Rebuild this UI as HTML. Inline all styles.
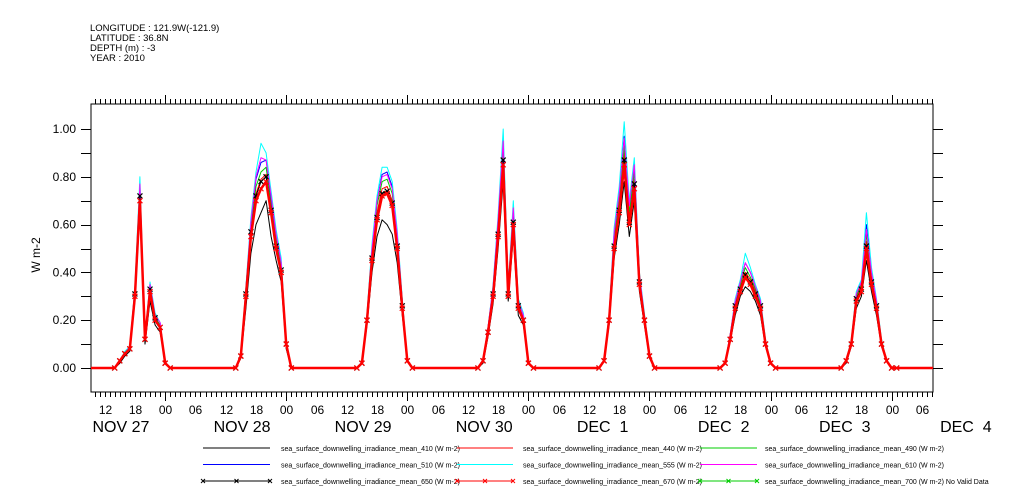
<!DOCTYPE html>
<html><head><meta charset="utf-8"><style>
body{margin:0;background:#fff;}
svg{display:block;font-family:"Liberation Sans",sans-serif;}
</style></head><body>
<svg id="chart" width="1009" height="504" viewBox="0 0 1009 504">
<g font-size="9.5" fill="#000">
<text x="90" y="31">LONGITUDE : 121.9W(-121.9)</text>
<text x="90" y="41">LATITUDE : 36.8N</text>
<text x="90" y="51">DEPTH (m) : -3</text>
<text x="90" y="61">YEAR : 2010</text>
</g>
<g id="axes"></g>
<g id="series"></g>
<g id="legend"></g>
</svg>
<script>
const dayLabels = ['NOV 27','NOV 28','NOV 29','NOV 30','DEC  1','DEC  2','DEC  3','DEC  4'];
const hourTickLabels = ['00','06','12','18'];
const yTicks = [0,0.2,0.4,0.6,0.8,1.0];
const hours = [14,15,16,17,18,19,20,21,22,23,24,25];
// values per day (Nov 27 .. Dec 3), hours 14..25
const s410 = [[0,0.02,0.05,0.07,0.28,0.66,0.10,0.28,0.18,0.15,0.02,0],[0,0.04,0.25,0.48,0.60,0.65,0.70,0.55,0.45,0.36,0.08,0],[0,0.02,0.18,0.40,0.55,0.62,0.60,0.56,0.44,0.22,0.03,0],[0,0.02,0.13,0.27,0.50,0.78,0.28,0.55,0.22,0.18,0.02,0],[0,0.03,0.18,0.46,0.60,0.78,0.55,0.70,0.32,0.18,0.04,0],[0,0.02,0.11,0.22,0.30,0.34,0.32,0.28,0.22,0.09,0.02,0],[0,0.02,0.09,0.25,0.30,0.45,0.32,0.22,0.09,0.03,0,0]];
const s440 = [[0,0.03,0.06,0.08,0.31,0.72,0.12,0.33,0.21,0.18,0.02,0],[0,0.05,0.31,0.57,0.73,0.79,0.81,0.67,0.52,0.41,0.10,0],[0,0.02,0.21,0.47,0.65,0.75,0.76,0.70,0.52,0.26,0.03,0],[0,0.03,0.16,0.32,0.58,0.90,0.31,0.63,0.26,0.21,0.02,0],[0,0.03,0.21,0.53,0.68,0.90,0.63,0.79,0.37,0.21,0.05,0],[0,0.02,0.13,0.26,0.34,0.40,0.37,0.32,0.26,0.10,0.02,0],[0,0.03,0.10,0.29,0.34,0.53,0.37,0.26,0.10,0.03,0,0]];
const s490 = [[0,0.03,0.06,0.08,0.32,0.74,0.12,0.34,0.21,0.18,0.02,0],[0,0.05,0.32,0.59,0.76,0.82,0.84,0.69,0.54,0.42,0.10,0],[0,0.02,0.22,0.49,0.68,0.78,0.79,0.73,0.54,0.27,0.03,0],[0,0.03,0.16,0.33,0.60,0.93,0.32,0.65,0.27,0.22,0.02,0],[0,0.03,0.22,0.55,0.70,0.93,0.65,0.82,0.38,0.22,0.05,0],[0,0.02,0.13,0.27,0.35,0.42,0.38,0.33,0.27,0.11,0.02,0],[0,0.03,0.11,0.30,0.35,0.56,0.38,0.27,0.11,0.03,0,0]];
const s510 = [[0,0.03,0.06,0.09,0.33,0.76,0.13,0.35,0.22,0.19,0.02,0],[0,0.05,0.33,0.61,0.79,0.86,0.87,0.71,0.56,0.44,0.11,0],[0,0.02,0.22,0.50,0.70,0.81,0.82,0.76,0.56,0.28,0.03,0],[0,0.03,0.17,0.34,0.62,0.96,0.33,0.67,0.28,0.22,0.02,0],[0,0.03,0.22,0.57,0.73,0.97,0.68,0.85,0.39,0.22,0.05,0],[0,0.02,0.14,0.28,0.36,0.44,0.40,0.34,0.28,0.11,0.02,0],[0,0.03,0.11,0.31,0.36,0.60,0.40,0.28,0.11,0.03,0,0]];
const s555 = [[0,0.03,0.07,0.09,0.34,0.80,0.13,0.36,0.23,0.19,0.02,0],[0,0.06,0.34,0.63,0.82,0.94,0.90,0.74,0.58,0.46,0.11,0],[0,0.02,0.23,0.52,0.72,0.84,0.84,0.78,0.58,0.29,0.03,0],[0,0.03,0.17,0.35,0.64,1.00,0.34,0.70,0.29,0.23,0.02,0],[0,0.03,0.23,0.59,0.76,1.03,0.70,0.88,0.40,0.23,0.05,0],[0,0.02,0.14,0.29,0.37,0.48,0.42,0.35,0.29,0.12,0.02,0],[0,0.03,0.12,0.32,0.37,0.65,0.42,0.29,0.12,0.03,0,0]];
const s610 = [[0,0.03,0.06,0.09,0.33,0.77,0.13,0.35,0.22,0.19,0.02,0],[0,0.05,0.33,0.61,0.80,0.88,0.87,0.72,0.56,0.44,0.11,0],[0,0.02,0.22,0.50,0.70,0.80,0.81,0.75,0.56,0.28,0.03,0],[0,0.03,0.17,0.34,0.62,0.95,0.33,0.67,0.28,0.22,0.02,0],[0,0.03,0.22,0.57,0.73,0.96,0.68,0.85,0.39,0.22,0.05,0],[0,0.02,0.14,0.28,0.36,0.44,0.40,0.34,0.28,0.11,0.02,0],[0,0.03,0.11,0.31,0.36,0.58,0.40,0.28,0.11,0.03,0,0]];
const s650 = [[0,0.03,0.06,0.08,0.31,0.72,0.12,0.33,0.21,0.17,0.02,0],[0,0.05,0.31,0.57,0.72,0.78,0.80,0.66,0.51,0.41,0.10,0],[0,0.02,0.20,0.46,0.63,0.73,0.74,0.69,0.51,0.26,0.03,0],[0,0.03,0.15,0.31,0.56,0.87,0.31,0.61,0.26,0.20,0.02,0],[0,0.03,0.20,0.51,0.66,0.87,0.61,0.77,0.36,0.20,0.05,0],[0,0.02,0.12,0.26,0.33,0.39,0.36,0.31,0.26,0.10,0.02,0],[0,0.03,0.10,0.29,0.33,0.51,0.36,0.26,0.10,0.03,0,0]];
const s670 = [[0,0.03,0.06,0.08,0.30,0.70,0.12,0.32,0.20,0.17,0.02,0],[0,0.05,0.30,0.55,0.70,0.75,0.78,0.65,0.50,0.40,0.10,0],[0,0.02,0.20,0.45,0.62,0.72,0.73,0.68,0.50,0.25,0.03,0],[0,0.03,0.15,0.30,0.55,0.85,0.30,0.60,0.25,0.20,0.02,0],[0,0.03,0.20,0.50,0.65,0.85,0.60,0.75,0.35,0.20,0.05,0],[0,0.02,0.12,0.25,0.32,0.38,0.35,0.30,0.25,0.10,0.02,0],[0,0.03,0.10,0.28,0.32,0.50,0.35,0.25,0.10,0.03,0,0]];
const seriesNames = ['410','440','490','510','555','610','650','670','700'];

const NS='http://www.w3.org/2000/svg';
const L=91,R=933,T=104,B=392;
const tMin=-14.7,tMax=152.2; // hours from Nov 28 00:00
const xS=t=>L+(t-tMin)/(tMax-tMin)*(R-L);
const yS=v=>368-v*239;
function mk(tag,attrs,parent){const e=document.createElementNS(NS,tag);for(const k in attrs)e.setAttribute(k,attrs[k]);parent.appendChild(e);return e;}
const axes=document.getElementById('axes');
const frame=mk('rect',{x:L,y:T,width:R-L,height:B-T,fill:'none',stroke:'#000','stroke-width':1},axes);


for(let t=Math.ceil(tMin);t<=tMax;t++){
  const x=Math.round(xS(t))+0.5;const major=((t%24)+24)%24===0;const len=major?9:5;
  const tb=mk('line',{x1:x,y1:B,x2:x,y2:B+len,stroke:'#000'},axes);
  
  
  const tt=mk('line',{x1:x,y1:T,x2:x,y2:T-len,stroke:'#000'},axes);
  
  
  const h=((t%24)+24)%24;
  if(h%6===0){
    const lb=mk('text',{x:x,y:414,'font-size':12,'text-anchor':'middle'},axes);
    lb.textContent=hourTickLabels[h/6];
    
    
  }
}
dayLabels.forEach((d,i)=>{
  const x=xS(-14.4+i*24);
  const lb=mk('text',{x:x,y:432,'font-size':16},axes);
  lb.textContent=d;lb.setAttribute('xml:space','preserve');lb.style.whiteSpace='pre';
  
  
});
for(let k=-2;k<=10;k++){
  const v=k/10;const y=Math.round(yS(v))+0.5;if(y<T||y>B)continue;
  const a=mk('line',{x1:L-10,y1:y,x2:L,y2:y,stroke:'#000'},axes);
  
  
  const b=mk('line',{x1:R,y1:y,x2:R+10,y2:y,stroke:'#000'},axes);
  
  
}
yTicks.forEach(v=>{
  const lb=mk('text',{x:76,y:yS(v)+4,'font-size':12,'text-anchor':'end'},axes);
  lb.textContent=v.toFixed(2);
  
  
});
const yt=mk('text',{x:40,y:255,'font-size':12,'text-anchor':'middle',transform:'rotate(-90 40 255)'},axes);
yt.textContent='W m-2';



const sg=document.getElementById('series');
function pts(data){
  const p=[[tMin,0]];
  data.forEach((day,d)=>{hours.forEach((h,j)=>{p.push([(d-1)*24+h,day[j]]);});});
  p.push([tMax,0]);
  return p;
}
function draw(data,color,w,marks,name){
  const p=pts(data);
  const pl=mk('polyline',{points:p.map(q=>xS(q[0]).toFixed(1)+','+yS(q[1]).toFixed(1)).join(' '),fill:'none',stroke:color,'stroke-width':w,'stroke-linejoin':'round'},sg);
  
  
  if(marks){p.forEach(q=>{if(q[1]<=0&&(q[0]<=tMin||q[0]>=tMax))return;const x=xS(q[0]),y=yS(q[1]);
    const m=mk('path',{d:`M${x-2.5},${y-2.5}L${x+2.5},${y+2.5}M${x-2.5},${y+2.5}L${x+2.5},${y-2.5}`,stroke:color,'stroke-width':1.2},sg);
    
    });}
}
draw(s410,'#000',1,false,'series-410');
draw(s440,'#f00',1,false,'series-440');
draw(s490,'#0c0',1,false,'series-490');
draw(s510,'#00f',1,false,'series-510');
draw(s555,'#0ff',1,false,'series-555');
draw(s610,'#f0f',1,false,'series-610');
draw(s650,'#000',1,true,'series-650');
draw(s670,'#f00',2.5,true,'series-670');

const lg=document.getElementById('legend');
const cols=[[203,270,281],[457,513,523],[700,757,765]];
const colors=['#000','#f00','#0c0','#00f','#0ff','#f0f','#000','#f00','#0c0'];
seriesNames.forEach((n,i)=>{
  const c=cols[i%3],y=448+Math.floor(i/3)*16.5;
  const ln=mk('line',{x1:c[0],y1:y,x2:c[1],y2:y,stroke:colors[i],'stroke-width':1},lg);
  
  
  if(i>=6){[c[0],(c[0]+c[1])/2,c[1]].forEach(x=>{const m=mk('path',{d:`M${x-2},${y-2}L${x+2},${y+2}M${x-2},${y+2}L${x+2},${y-2}`,stroke:colors[i]},lg);
    
    });}
  const tx=mk('text',{x:c[2],y:y+3,'font-size':7},lg);
  tx.textContent='sea_surface_downwelling_irradiance_mean_'+n+' (W m-2)'+(n==='700'?' No Valid Data':'');
  
  
});
</script>
</body></html>
